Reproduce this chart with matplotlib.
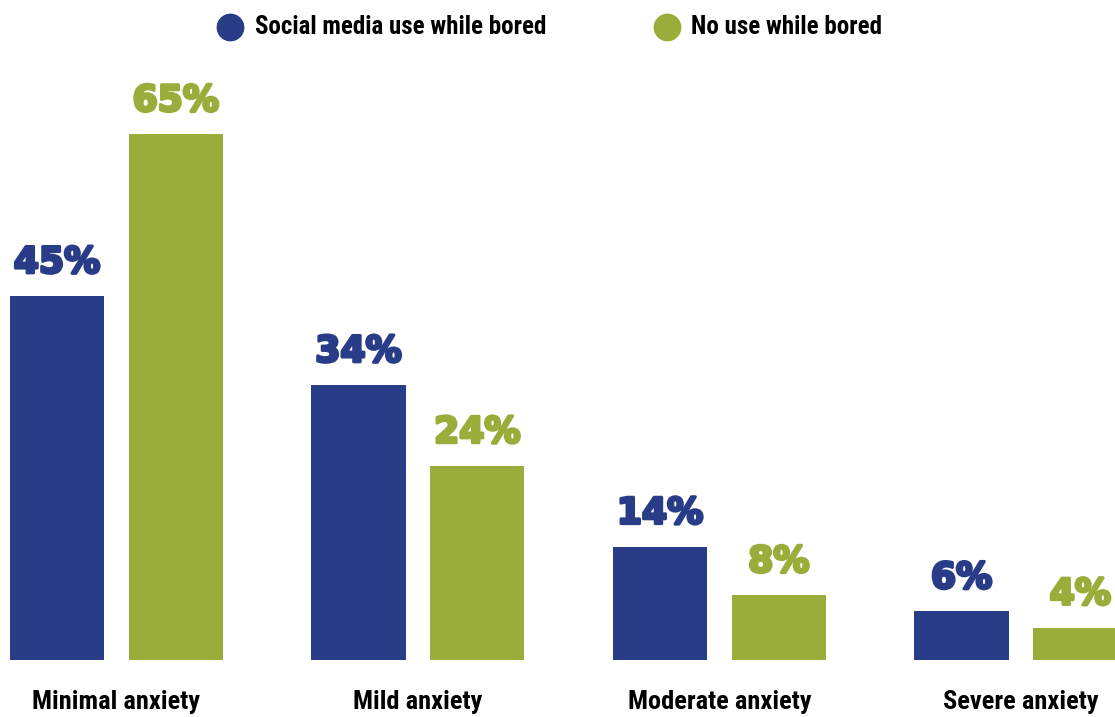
import matplotlib.pyplot as plt
import matplotlib.patheffects as pe
import numpy as np

# data
categories = ["Minimal anxiety", "Mild anxiety", "Moderate anxiety", "Severe anxiety"]
bored_use = [45, 34, 14, 6]
no_use = [65, 24, 8, 4]
series_names = ["Social media use while bored", "No use while bored"]

# style
blue = "#283c87"
green = "#9aad3a"
cond = ["Roboto Condensed", "Liberation Sans Narrow", "DejaVu Sans"]
heavy = ["DejaVu Sans"]

x = np.arange(len(categories))
off = 0.197
w = 0.312

fig = plt.figure(figsize=(11.15, 7.17), dpi=100)
ax = fig.add_axes([0, 0, 1, 1])
ax.set_xlim(-0.386, 3.312)
ax.set_ylim(-7.05, 81.6)
ax.axis("off")

ax.bar(x - off, bored_use, w, color=blue)
ax.bar(x + off, no_use, w, color=green)

# value labels, thickened with a stroke of the same colour
for vals, col, dx in [(bored_use, blue, -off), (no_use, green, off)]:
    for xi, v in zip(x + dx, vals):
        ax.text(xi, v + 2.0, f"{v}%", ha="center", va="bottom", fontsize=26,
                fontweight="heavy", family=heavy, color=col,
                path_effects=[pe.withStroke(linewidth=2.2, foreground=col)])

for xi, c in zip(x, categories):
    ax.text(xi, -5.2, c, ha="center", va="center", fontsize=19,
            fontweight="bold", family=cond, color="black")

# legend drawn by hand across the top
ly = 1 - 27 / 717
for (mx, tx), name, col in zip([(0.206, 0.229), (0.598, 0.620)], series_names, [blue, green]):
    ax.scatter([mx], [ly], s=360, color=col, transform=fig.transFigure, clip_on=False)
    fig.text(tx, ly, name, ha="left", va="center", fontsize=18,
             fontweight="bold", family=cond, color="black")

fig.savefig("out.png", dpi=100)
